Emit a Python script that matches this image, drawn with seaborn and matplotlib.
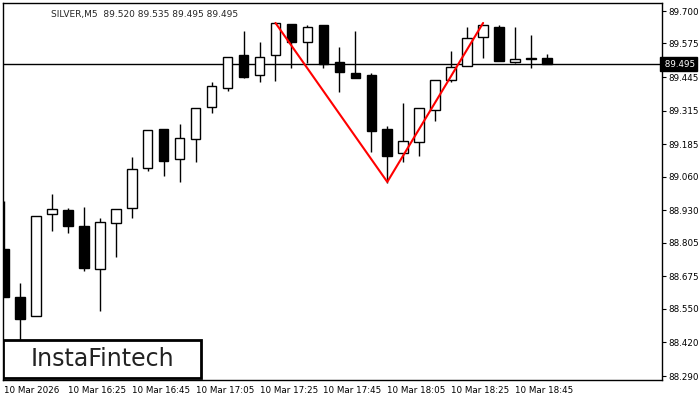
import numpy as np
import pandas as pd
import matplotlib
matplotlib.use("Agg")
import matplotlib.pyplot as plt
import seaborn as sns

# 5-minute SILVER candles, 10 Mar 2026 from 16:05
opens = [88.781, 88.595, 88.522, 88.916, 88.931, 88.870, 88.704, 88.881, 88.939, 89.094,
         89.244, 89.128, 89.206, 89.329, 89.403, 89.530, 89.453, 89.530, 89.650, 89.580,
         89.646, 89.503, 89.461, 89.453, 89.244, 89.152, 89.194, 89.318, 89.434, 89.488,
         89.600, 89.638, 89.503, 89.515, 89.518]
highs = [88.966, 88.650, 88.908, 88.993, 88.939, 88.943, 88.901, 88.935, 89.136, 89.240,
         89.244, 89.264, 89.325, 89.426, 89.522, 89.623, 89.580, 89.654, 89.650, 89.646,
         89.646, 89.561, 89.623, 89.461, 89.256, 89.345, 89.325, 89.434, 89.546, 89.638,
         89.646, 89.646, 89.638, 89.607, 89.534]
lows = [88.595, 88.429, 88.522, 88.850, 88.843, 88.696, 88.541, 88.750, 88.901, 89.082,
        89.063, 89.040, 89.117, 89.306, 89.391, 89.441, 89.426, 89.430, 89.480, 89.499,
        89.480, 89.387, 89.441, 89.155, 89.036, 89.117, 89.140, 89.275, 89.426, 89.488,
        89.518, 89.507, 89.499, 89.480, 89.499]
closes = [88.595, 88.510, 88.908, 88.935, 88.870, 88.707, 88.885, 88.935, 89.090, 89.240,
          89.121, 89.210, 89.325, 89.410, 89.522, 89.445, 89.522, 89.654, 89.580, 89.638,
          89.495, 89.464, 89.441, 89.237, 89.140, 89.198, 89.325, 89.434, 89.484, 89.596,
          89.646, 89.507, 89.515, 89.515, 89.495]

# double top pattern line: top, trough, top
pattern_idx = [17, 24, 30]
pattern_price = [89.654, 89.040, 89.654]

last_price = 89.495
y_ticks = [89.700, 89.575, 89.445, 89.315, 89.185, 89.060, 88.930, 88.805, 88.675, 88.550, 88.420, 88.290]
x_tick_idx = [0, 4, 8, 12, 16, 20, 24, 28, 32]
x_tick_labels = ["10 Mar 2026", "10 Mar 16:25", "10 Mar 16:45", "10 Mar 17:05", "10 Mar 17:25",
                 "10 Mar 17:45", "10 Mar 18:05", "10 Mar 18:25", "10 Mar 18:45"]

df = pd.DataFrame({"open": opens, "high": highs, "low": lows, "close": closes})
df["x"] = np.arange(len(df))

sns.set_style("white")
plt.rcParams["font.family"] = ["DejaVu Sans"]

fig = plt.figure(figsize=(7, 4), dpi=100)
ax = fig.add_axes([3 / 700, 20 / 400, 659 / 700, 377 / 400])

ax.vlines(df["x"], df["low"], df["high"], color="black", linewidth=1, zorder=2)
up = df["close"] >= df["open"]
body_lo = df[["open", "close"]].min(axis=1)
body_h = (df["close"] - df["open"]).abs().clip(lower=0.002)
ax.bar(df["x"][up], body_h[up], bottom=body_lo[up], width=0.6, color="white",
       edgecolor="black", linewidth=1, zorder=3)
ax.bar(df["x"][~up], body_h[~up], bottom=body_lo[~up], width=0.6, color="black",
       edgecolor="black", linewidth=1, zorder=3)

sns.lineplot(x=pattern_idx, y=pattern_price, color="red", linewidth=1.5, ax=ax, zorder=4)
ax.axhline(last_price, color="black", linewidth=1, zorder=1)

ax.set_xlim(-0.06, 41.2)
ax.set_ylim(88.275, 89.731)
ax.yaxis.tick_right()
ax.set_yticks(y_ticks)
ax.set_yticklabels([f"{v:.3f}" for v in y_ticks], fontsize=6.3)
ax.set_xticks(x_tick_idx)
ax.set_xticklabels(x_tick_labels, fontsize=6.3, ha="left")
ax.tick_params(axis="both", length=3, direction="out", pad=1.5, colors="black")
for s in ax.spines.values():
    s.set_color("black")
    s.set_linewidth(1)

ax.text(1.0, last_price, f" {last_price:.3f}", transform=ax.get_yaxis_transform(),
        fontsize=6.3, color="white", va="center", ha="left", zorder=7,
        bbox=dict(boxstyle="square,pad=0.25", fc="black", ec="black"))

ax.text(0.073, 0.982, "SILVER,M5  89.520 89.535 89.495 89.495", transform=ax.transAxes,
        fontsize=6.5, va="top", ha="left")

logo = plt.Rectangle((0, 0.005), 198 / 659, 38 / 377, transform=ax.transAxes,
                     fc="white", ec="black", linewidth=2, zorder=5)
ax.add_patch(logo)
ax.text(99 / 659, 0.005 + 19 / 377, "InstaFintech", transform=ax.transAxes,
        fontsize=17, color="#222222", ha="center", va="center", zorder=6)

fig.savefig("out.png", dpi=100)
